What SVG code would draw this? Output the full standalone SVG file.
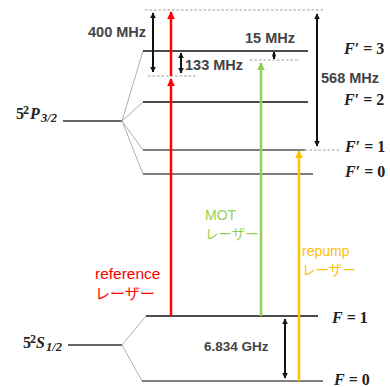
<svg xmlns="http://www.w3.org/2000/svg" width="390" height="387" viewBox="0 0 390 387">
<defs>
<style>
.lvl{stroke:#333;stroke-width:1.6;fill:none}
.fan{stroke:#b0b0b0;stroke-width:1;fill:none}
.dash{stroke:#999;stroke-width:1;stroke-dasharray:2.5,2;fill:none}
.blk{stroke:#111;stroke-width:2;fill:none}
.val{font-family:"Liberation Sans",Arial,sans-serif;font-weight:bold;font-size:14.5px;fill:#444}
.fl{font-family:"Liberation Serif","DejaVu Serif",serif;font-weight:bold;font-size:16px;fill:#222}
.it{font-style:italic}
.jp{font-family:"Noto Sans CJK JP","Noto Sans",sans-serif}
.la{font-family:"Liberation Sans",Arial,sans-serif}
</style>
<marker id="ak" viewBox="0 0 10 10" refX="9" refY="5" markerWidth="6" markerHeight="6" markerUnits="userSpaceOnUse" orient="auto-start-reverse"><path d="M0,0 L10,5 L0,10 z" fill="#111"/></marker>
<marker id="aks" viewBox="0 0 10 10" refX="9" refY="5" markerWidth="4" markerHeight="5" markerUnits="userSpaceOnUse" orient="auto-start-reverse"><path d="M0,0 L10,5 L0,10 z" fill="#111"/></marker>
<marker id="ar" viewBox="0 0 10 10" refX="9" refY="5" markerWidth="8" markerHeight="8" markerUnits="userSpaceOnUse" orient="auto"><path d="M0,0 L10,5 L0,10 z" fill="#ff0000"/></marker>
<marker id="ag" viewBox="0 0 10 10" refX="9" refY="5" markerWidth="8" markerHeight="8" markerUnits="userSpaceOnUse" orient="auto"><path d="M0,0 L10,5 L0,10 z" fill="#92d050"/></marker>
<marker id="ao" viewBox="0 0 10 10" refX="9" refY="5" markerWidth="8" markerHeight="8" markerUnits="userSpaceOnUse" orient="auto"><path d="M0,0 L10,5 L0,10 z" fill="#ffc000"/></marker>
</defs>
<rect width="390" height="387" fill="#fff"/>

<g id="P32">
<line class="lvl" x1="63" y1="121" x2="122" y2="121"/>
<text class="fl" x="16" y="119">5</text>
<text class="fl" x="23" y="114" style="font-size:12px">2</text>
<text class="fl it" x="30" y="119">P</text>
<text class="fl it" x="41" y="122" style="font-size:12.5px">3/2</text>
</g>
<g id="S12">
<line class="lvl" x1="68" y1="345" x2="122" y2="345"/>
<text class="fl" x="23" y="348">5</text>
<text class="fl" x="30" y="343" style="font-size:12px">2</text>
<text class="fl it" x="36" y="348">S</text>
<text class="fl it" x="46" y="351" style="font-size:12.5px">1/2</text>
</g>

<g id="fans">
<path class="fan" d="M122,121 L143,51 M122,121 L143,102 M122,121 L143,150 M122,121 L143,174 M122,345 L146,316 M122,345 L142,381"/>
</g>

<g id="Fp3"><line class="lvl" x1="143" y1="51" x2="308" y2="51" style="stroke:#111"/>
<text class="fl" x="344" y="54"><tspan class="it">F</tspan>′ = 3</text></g>
<g id="Fp2"><line class="lvl" x1="143" y1="102" x2="308" y2="102" style="stroke:#111"/>
<text class="fl" x="344" y="105"><tspan class="it">F</tspan>′ = 2</text></g>
<g id="Fp1"><line class="lvl" x1="143" y1="150" x2="305" y2="150" style="stroke:#555"/>
<text class="fl" x="345" y="152"><tspan class="it">F</tspan>′ = 1</text></g>
<g id="Fp0"><line class="lvl" x1="143" y1="174" x2="313" y2="174" style="stroke:#555"/>
<text class="fl" x="345" y="177"><tspan class="it">F</tspan>′ = 0</text></g>
<g id="F1"><line class="lvl" x1="146" y1="316" x2="318" y2="316" style="stroke:#111"/>
<text class="fl" x="332" y="323"><tspan class="it">F</tspan> = 1</text></g>
<g id="F0"><line class="lvl" x1="142" y1="381" x2="323" y2="381" style="stroke:#555"/>
<text class="fl" x="334" y="385"><tspan class="it">F</tspan> = 0</text></g>

<g id="guides">
<line class="dash" x1="145" y1="10" x2="323" y2="10"/>
<line class="dash" x1="148" y1="76" x2="197" y2="76"/>
<line class="dash" x1="250" y1="60" x2="300" y2="60"/>
<line class="dash" x1="305" y1="150" x2="340" y2="150"/>
</g>

<g id="connectors">
<line class="blk" x1="153" y1="13" x2="153" y2="72" marker-start="url(#ak)" marker-end="url(#ak)"/>
<line class="blk" x1="181" y1="53" x2="181" y2="73" marker-start="url(#ak)" marker-end="url(#ak)"/>
<line class="blk" x1="274" y1="52" x2="274" y2="59" stroke-width="1.5" marker-start="url(#aks)" marker-end="url(#aks)"/>
<line class="blk" x1="317" y1="14" x2="317" y2="146" marker-start="url(#ak)" marker-end="url(#ak)"/>
<line class="blk" x1="285" y1="319" x2="285" y2="378" marker-start="url(#ak)" marker-end="url(#ak)"/>
<line x1="171" y1="316" x2="171" y2="79" stroke="#ff0000" stroke-width="2.5" marker-end="url(#ar)"/>
<line x1="171" y1="76" x2="171" y2="12" stroke="#ff0000" stroke-width="2.5" marker-end="url(#ar)"/>
<line x1="261" y1="316" x2="261" y2="63" stroke="#92d050" stroke-width="2.5" marker-end="url(#ag)"/>
<line x1="299" y1="381" x2="299" y2="151" stroke="#ffc000" stroke-width="2.5" marker-end="url(#ao)"/>
</g>

<g id="labels">
<text class="val" x="88" y="37">400 MHz</text>
<text class="val" x="185" y="70">133 MHz</text>
<text class="val" x="245" y="43">15 MHz</text>
<text class="val" x="321" y="83">568 MHz</text>
<text class="val" x="204" y="351" style="font-size:13.5px">6.834 GHz</text>
<text class="la" x="95" y="278.5" font-size="15.5" fill="#ff0000">reference</text>
<text class="jp" x="95" y="299" font-size="15" fill="#ff0000">レーザー</text>
<text class="la" x="205" y="219.5" font-size="14" fill="#92d050">MOT</text>
<text class="jp" x="205" y="239" font-size="13.5" fill="#92d050">レーザー</text>
<text class="la" x="302" y="256" font-size="14" fill="#ffc000">repump</text>
<text class="jp" x="302" y="275" font-size="13.5" fill="#ffc000">レーザー</text>
</g>
</svg>
